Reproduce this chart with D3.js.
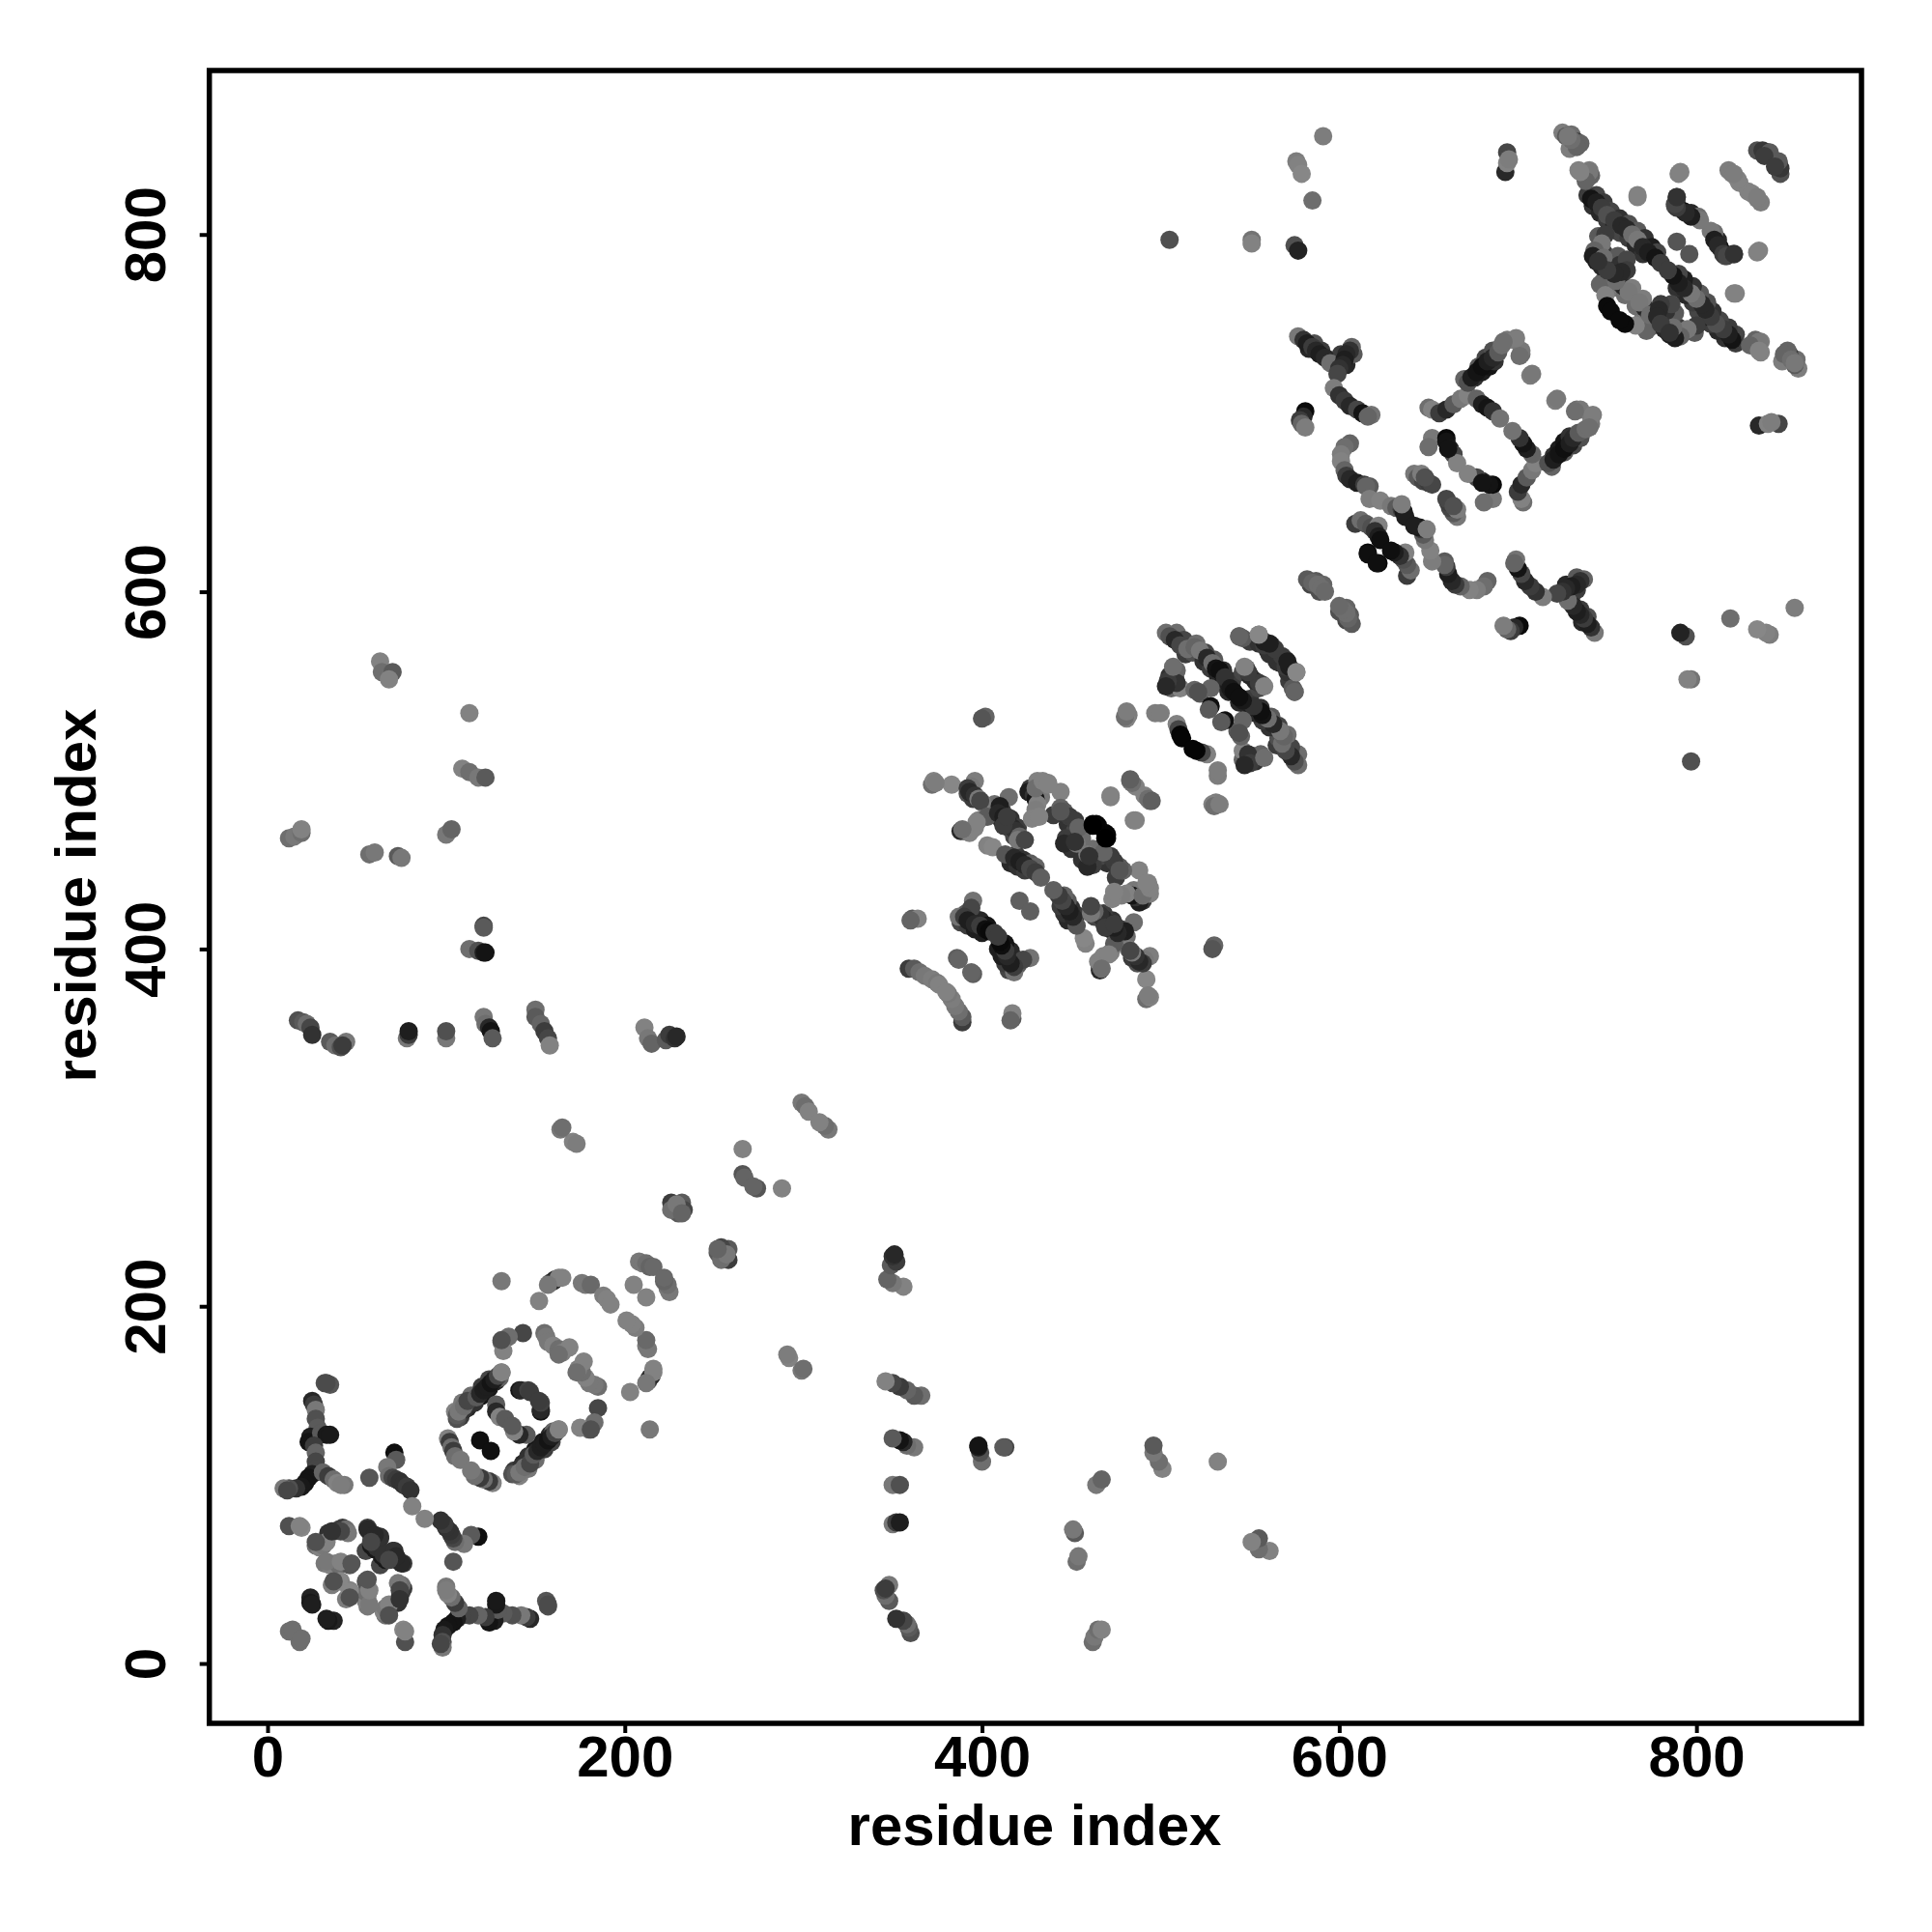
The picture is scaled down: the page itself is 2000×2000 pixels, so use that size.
<!DOCTYPE html>
<html><head><meta charset="utf-8">
<script src="https://cdnjs.cloudflare.com/ajax/libs/d3/7.8.5/d3.min.js"></script>
<style>html,body{margin:0;background:#fff}svg{display:block}text{font-family:"Liberation Sans",Arial,sans-serif;font-weight:700;fill:#000}</style>
</head><body><svg id="c" width="2000" height="2000"></svg>
<script>
// each entry: [residue i, residue j, darkness-level of the contact]; drawn at (i,j) and (j,i)
const farContacts=[[12,462,110],[15,463,120],[19,465,110],[19,467,130],[57,453,110],[60,454,120],[73,452,90],[75,451,120],[100,464,120],[103,467,100],[63,561,130],[64,555,110],[68,553,110],[70,555,90],[68,551,130],[113,532,130],[109,501,130],[113,499,110],[118,496,120],[122,496,90],[121,413,70],[121,412,90],[113,400,110],[118,399,80],[121,398,30],[122,398,20],[17,360,80],[20,359,90],[22,358,110],[24,356,70],[25,352,50],[35,348,90],[38,346,110],[41,345,80],[44,348,120],[42,346,60],[78,350,120],[79,352,60],[79,354,30],[100,350,120],[100,354,80],[121,362,120],[122,358,110],[124,356,40],[125,354,20],[126,350,90],[150,366,110],[150,362,90],[153,358,100],[155,354,60],[157,350,70],[158,346,130],[211,356,130],[213,350,120],[215,347,100],[223,349,90],[225,352,60],[228,350,50],[229,351,40],[171,292,130],[173,291,125],[164,299,120],[165,300,110],[505,797,80],[551,797,115],[551,795,130],[575,794,80],[577,791,35],[591,855,125],[576,841,125],[577,839,130],[579,834,135],[585,819,110],[693,835,40],[694,846,70],[694,840,130],[695,842,125]];
const chainContacts=[[266,288,130],[266,274,85],[267,272,100],[226,258,60],[228,255,80],[230,252,90],[232,258,90],[233,254,70],[226,254,110],[229,257,120],[232,252,100],[299,314,120],[301,312,110],[303,309,130],[208,225,120],[210,224,120],[212,224,110],[214,222,100],[216,222,105],[205,212,130],[176,213,120],[178,212,120],[181,212,105],[188,206,125],[190,204,130],[192,201,130],[158,213,90],[160,214,50],[161,215,40],[163,216,130],[165,216,130],[157,212,120],[152,203,130],[131,214,120],[143,185,70],[135,183,110],[131,180,110],[132,175,130],[131,181,80],[155,185,110],[156,183,120],[157,180,120],[160,178,130],[163,176,110],[165,174,125],[169,177,130],[163,173,110]];
const domainOne=[[106,137,80],[106,139,90],[107,141,120],[110,144,110],[112,147,70],[117,149,90],[119,151,40],[121,153,30],[123,155,30],[125,157,20],[127,159,30],[129,161,70],[131,163,130],[128,145,90],[128,141,40],[130,138,130],[133,137,90],[141,153,20],[142,153,40],[146,153,65],[147,152,60],[101,126,130],[102,124,60],[103,121,110],[104,119,60],[105,116,110],[108,114,120],[119,125,15],[71,118,15],[72,114,90],[67,110,120],[68,105,110],[70,104,70],[72,103,60],[74,102,50],[76,100,50],[78,99,60],[80,97,50],[81,88,130],[57,104,85],[32,157,80],[35,156,85],[33,157,75],[25,147,40],[26,145,60],[27,142,120],[27,137,80],[28,132,90],[24,127,30],[23,124,20],[30,129,90],[33,128,25],[35,128,25],[26,122,60],[27,118,100],[27,113,70],[27,109,70],[25,106,30],[23,104,20],[21,101,20],[19,99,25],[16,98,50],[12,98,80],[9,98,120],[11,97,70],[31,107,100],[34,105,60],[37,103,110],[39,101,130],[43,100,120],[41,100,125],[12,77,80],[19,76,135],[18,77,130],[34,73,50],[37,74,60],[40,75,70],[42,76,60],[44,75,110],[45,73,120],[27,66,110],[29,65,130],[31,66,120],[32,56,120],[35,55,130],[38,56,130],[40,55,110],[46,55,85],[36,44,125],[41,46,130],[40,46,135],[37,46,80],[33,57,120],[41,57,130],[47,56,85],[33,68,130],[27,68,80],[56,76,60],[57,74,70],[58,72,80],[60,70,90],[63,70,50],[55,63,70],[58,66,25],[60,64,25],[61,65,50],[63,71,50],[56,75,40],[60,72,40],[58,68,70],[41,74,70],[36,74,50],[24,37,35],[24,34,25],[25,33,30],[13,18,100],[12,18,110],[14,19,110]];
const domainOneDense=[[108,138,60],[112,143,40],[116,146,50],[120,150,20],[124,154,25],[128,158,40],[130,160,100],[110,142,50],[105,141,130],[109,146,120],[114,150,110],[120,155,60],[124,159,70],[131,163,130]];
const domainTwo=[[372,492,110],[373,494,130],[383,492,135],[396,494,125],[394,491,120],[392,490,60],[393,488,40],[396,486,50],[398,484,120],[400,482,125],[399,483,70],[388,466,40],[390,466,60],[393,465,130],[396,468,130],[398,472,125],[403,474,90],[415,485,110],[410,480,30],[409,476,40],[412,474,30],[414,472,20],[417,468,40],[419,466,50],[421,463,100],[420,461,120],[412,469,60],[427,490,60],[426,488,30],[429,486,50],[431,494,130],[436,493,125],[437,493,130],[433,485,120],[430,484,20],[431,481,130],[430,478,125],[428,473,130],[444,488,130],[444,479,100],[446,477,90],[449,474,60],[452,472,60],[454,468,100],[446,459,40],[453,459,120],[462,470,5],[465,469,10],[470,464,5],[469,462,0],[460,452,50],[444,477,85],[472,485,130],[483,494,100],[486,491,130],[493,484,110],[495,483,95],[486,472,130],[403,458,130],[406,457,135],[413,453,85],[418,451,40],[421,449,30],[424,447,40],[427,445,70],[430,443,60],[433,440,95],[395,427,115],[394,423,70],[387,418,115],[390,418,60],[392,416,30],[396,414,40],[399,413,60],[402,411,15],[404,410,10],[407,409,60],[421,427,95],[361,417,90],[364,417,130],[360,416,100],[386,395,95],[387,394,100],[359,389,60],[362,389,90],[365,387,110],[368,385,120],[372,383,125],[375,381,120],[376,380,130],[424,461,70],[414,474,60],[397,471,130],[389,467,110],[374,493,125],[432,474,130],[430,490,110],[434,494,130],[437,492,130]];
const domainTwoDense=[[392,487,80],[395,484,60],[408,478,50],[411,472,40],[415,468,60],[418,463,70],[407,481,110],[411,478,70],[416,473,50],[420,468,60],[416,448,40],[420,446,50],[424,444,60],[419,453,60],[423,450,50],[427,448,90],[430,446,100],[388,415,70],[392,413,60],[396,411,30],[400,409,30],[391,420,90],[395,418,50],[399,416,40],[403,413,20],[440,475,60],[448,470,50],[452,466,70],[447,462,60],[450,456,50],[456,462,110]];
const domainThree=[[482,531,125],[481,529,130],[497,532,125],[500,532,125],[503,577,110],[505,575,80],[508,573,40],[511,570,70],[515,568,110],[519,569,100],[522,567,120],[526,563,40],[529,560,110],[531,557,20],[533,556,15],[536,552,50],[539,546,25],[541,544,15],[506,546,100],[505,548,70],[508,552,30],[509,556,100],[511,546,130],[509,549,50],[519,545,100],[522,543,90],[528,536,15],[527,534,90],[544,575,100],[546,574,90],[555,576,130],[558,572,30],[562,570,60],[568,564,60],[571,561,30],[576,555,135],[575,544,100],[548,557,100],[546,555,70],[550,553,40],[555,549,60],[558,547,130],[509,526,130],[510,523,70],[511,520,5],[512,518,5],[504,550,60],[503,547,40],[507,558,110],[528,546,100],[521,544,80],[402,530,100],[400,529,85],[530,480,110],[533,481,125]];
const domainThreeDense=[[507,574,60],[510,572,50],[514,565,60],[518,566,80],[524,561,50],[528,557,60],[532,553,40],[535,549,30],[538,544,40],[509,577,110],[513,573,70],[520,571,110],[525,566,70],[530,562,90],[535,556,50],[540,550,60],[505,553,50],[507,549,40],[550,572,60],[555,571,50],[560,567,40],[565,561,50],[570,558,60]];
const domainFour=[[577,743,120],[580,741,50],[582,739,30],[585,737,60],[587,735,40],[589,733,30],[592,731,40],[595,728,110],[607,737,100],[606,735,50],[604,733,40],[603,730,30],[602,727,40],[600,725,50],[599,722,70],[597,714,125],[600,710,50],[603,707,60],[606,704,40],[610,702,70],[613,700,20],[618,699,115],[616,698,100],[581,701,10],[580,698,40],[578,696,60],[579,694,100],[581,692,125],[606,683,100],[603,681,110],[601,677,125],[601,673,130],[603,668,100],[604,665,60],[606,663,40],[610,661,30],[614,660,60],[617,659,90],[615,659,100],[617,652,125],[623,651,130],[629,648,120],[632,647,90],[635,646,60],[636,645,25],[637,642,30],[635,649,125],[609,638,60],[612,640,110],[615,638,90],[618,636,80],[622,637,130],[620,634,50],[622,631,30],[623,629,15],[616,622,10],[616,621,15],[650,703,110],[652,702,130],[656,700,60],[660,702,40],[664,705,90],[668,708,120],[672,710,130],[677,708,100],[680,705,30],[683,703,20],[686,701,50],[690,697,115],[672,717,80],[674,720,30],[677,723,20],[680,726,15],[683,729,30],[686,731,40],[689,734,90],[691,738,110],[694,741,120],[698,741,125],[702,733,110],[707,721,125],[702,735,120],[652,686,120],[650,681,110],[660,686,10],[660,684,20],[662,680,30],[664,677,70],[666,672,130],[661,680,20],[642,666,120],[644,664,90],[647,662,70],[650,661,60],[652,660,70],[646,666,125],[648,664,80],[582,607,90],[585,605,100],[588,604,110],[590,602,110],[592,600,105],[708,722,120],[701,732,110],[699,742,125],[692,740,110]];
const domainFourDense=[[583,736,40],[586,739,80],[590,735,60],[594,730,50],[604,727,40],[601,733,60],[608,733,90],[676,720,50],[680,723,30],[684,726,20],[687,729,50],[670,719,100],[678,726,90],[682,731,70],[686,735,80],[584,604,70],[587,606,90],[591,604,100],[589,600,80]];
const domainFive=[[725,857,125],[727,855,90],[730,856,110],[733,852,60],[735,851,100],[729,848,125],[734,836,130],[740,836,125],[741,833,100],[739,822,60],[741,820,20],[744,818,30],[747,815,60],[750,811,80],[754,808,60],[758,805,40],[761,803,40],[764,800,110],[767,797,120],[770,793,40],[773,790,30],[777,787,20],[780,784,60],[767,821,130],[789,821,70],[790,834,130],[788,816,90],[790,815,60],[793,813,20],[797,812,40],[801,810,110],[808,802,120],[810,797,30],[812,794,40],[815,789,60],[817,788,70],[821,789,50],[818,836,125],[820,834,125],[824,829,130],[831,823,130],[834,821,125],[834,847,80],[837,847,55],[840,846,55],[841,846,90],[838,844,60],[789,796,85],[791,835,130],[767,822,130],[745,799,90],[749,800,60],[747,795,120],[743,791,100],[742,788,30],[744,785,30],[747,782,40],[752,780,20],[757,783,50],[761,786,70],[748,787,110],[746,772,100],[749,766,130],[750,760,10],[752,757,10],[757,773,60],[759,771,40],[764,770,125],[762,768,120],[755,774,110],[761,780,60],[758,779,40],[754,778,40],[750,780,60],[745,785,50],[740,835,120],[738,830,100],[735,835,130],[733,849,100],[730,853,110],[728,855,120]];
const domainFiveDense=[[742,816,50],[746,812,40],[750,808,60],[754,805,30],[757,801,70],[762,798,60],[766,794,40],[770,789,50],[744,822,70],[748,818,60],[752,813,70],[757,809,50],[762,806,80],[767,802,90],[771,798,50],[775,793,30],[778,790,70],[748,790,60],[752,786,50],[756,788,90],[760,782,50],[750,776,70],[748,774,90],[753,770,120],[760,766,110]];
const allContacts=[farContacts,chainContacts,domainOneDense,domainOne,domainTwoDense,domainTwo,domainThreeDense,domainThree,domainFourDense,domainFour,domainFiveDense,domainFive].flat();
const xTicks=[0,200,400,600,800],yTicks=[0,200,400,600,800];
const axisTitle="residue index";

const L=216.7,R=1927,T=73,B=1784;
const x=d3.scaleLinear().domain([-32.6,892.4]).range([L,R]);
const y=d3.scaleLinear().domain([-33.5,891.8]).range([B,T]);
const shade=d3.scaleLinear().domain([0,255]).range(["#000","#fff"]);
const svg=d3.select("#c");
const marks=allContacts.flatMap(([i,j,s])=>[{a:i,b:j,s},{a:j,b:i,s}]);
svg.append("g").selectAll("circle").data(marks).join("circle")
 .attr("cx",d=>x(d.a)).attr("cy",d=>y(d.b)).attr("r",9.5).attr("fill",d=>shade(d.s));
svg.append("rect").attr("x",L).attr("y",T).attr("width",R-L).attr("height",B-T).attr("fill","none").attr("stroke","#000").attr("stroke-width",5.5);
const gx=svg.append("g").attr("transform",`translate(0,${B})`).call(d3.axisBottom(x).tickValues(xTicks).tickSize(10));
const gy=svg.append("g").attr("transform",`translate(${L},0)`).call(d3.axisLeft(y).tickValues(yTicks).tickSize(10));
[gx,gy].forEach(g=>{g.select(".domain").remove();g.selectAll("line").attr("stroke","#000").attr("stroke-width",4);g.selectAll("text").style("font-size","60px");});
gx.selectAll("text").attr("y",55).attr("dy",null);
gy.selectAll("text").attr("text-anchor","middle").attr("x",0).attr("y",0).attr("dy",null).attr("transform","translate(-45.7,0) rotate(-90)");
svg.append("text").attr("x",1071).attr("y",1910).attr("text-anchor","middle").style("font-size","60px").text(axisTitle);
svg.append("text").attr("transform","translate(99,927) rotate(-90)").attr("text-anchor","middle").style("font-size","60px").text(axisTitle);
</script></body></html>
